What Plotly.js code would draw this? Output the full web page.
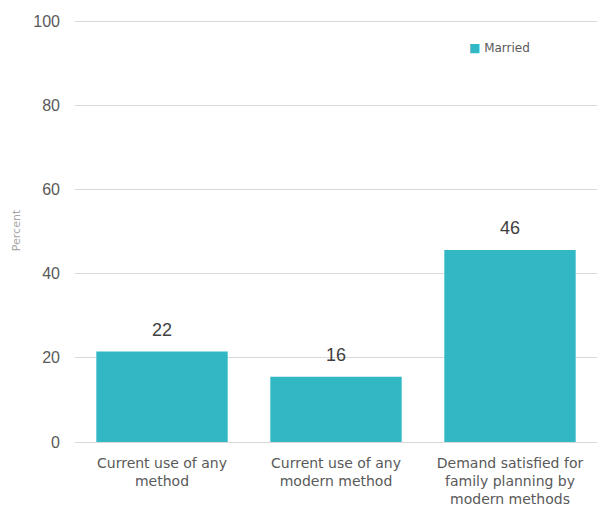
<!DOCTYPE html>
<html>
<head>
<meta charset="utf-8">
<script src="https://cdn.plot.ly/plotly-3.0.1.min.js"></script>
<style>html,body{margin:0;padding:0;background:#fff;}#chart{width:597px;height:508px;}</style>
</head>
<body>
<div id="chart"></div>
<script>
const categories = ["Current use of any<br>method", "Current use of any<br>modern method", "Demand satisfied for<br>family planning by<br>modern methods"];
const married = [21.5, 15.5, 45.6];
const marriedLabels = ["22", "16", "46"];
const yTicks = [0, 20, 40, 60, 80, 100];
const seriesName = "Married";
const barColor = "#31B8C4";

const trace = {
  type: "bar",
  name: seriesName,
  x: categories,
  y: married,
  marker: {color: barColor},
  hoverinfo: "none",
  showlegend: false
};

const labelAnnotations = categories.map((c, i) => ({
  x: c, y: married[i], xref: "x", yref: "y",
  text: marriedLabels[i], showarrow: false,
  yanchor: "bottom", yshift: 10,
  font: {family: "Liberation Sans, Arial, sans-serif", size: 18, color: "#404040"}
}));

const legendAnnotation = {
  xref: "paper", yref: "paper", x: 0.751, y: 0.932, xanchor: "left", yanchor: "middle",
  showarrow: false,
  text: "<span style='color:" + barColor + "'>■</span> " + seriesName,
  font: {family: "DejaVu Sans, sans-serif", size: 12, color: "#595959"}
};

const layout = {
  width: 597, height: 508,
  margin: {l: 75, r: 0, t: 19, b: 66},
  paper_bgcolor: "#fff", plot_bgcolor: "#fff",
  font: {family: "Liberation Sans, Arial, sans-serif", color: "#595959"},
  bargap: 0.245,
  showlegend: false,
  annotations: labelAnnotations.concat([legendAnnotation]),
  xaxis: {
    tickfont: {family: "DejaVu Sans, sans-serif", size: 14, color: "#595959"},
    showline: false, zeroline: false, ticks: "", ticklabelstandoff: 11, fixedrange: true
  },
  yaxis: {
    range: [0, 100.5], tickvals: yTicks, ticktext: yTicks.map(String),
    tickfont: {size: 16, color: "#595959"},
    gridcolor: "#d9d9d9", gridwidth: 1,
    zeroline: true, zerolinecolor: "#d9d9d9", zerolinewidth: 1,
    ticks: "", ticklabelstandoff: 14,
    title: {text: "Percent", font: {family: "DejaVu Sans, sans-serif", size: 11, color: "#a6a6a6"}, standoff: 10},
    fixedrange: true
  }
};

Plotly.newPlot("chart", [trace], layout, {displayModeBar: false, staticPlot: true});
</script>
</body>
</html>
